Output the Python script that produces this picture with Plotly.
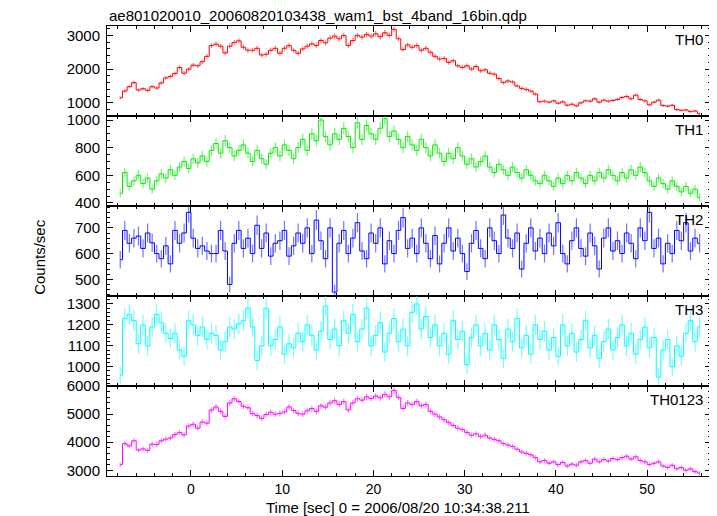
import numpy as np
import plotly.graph_objects as go
from plotly.subplots import make_subplots

# ---- data (0.5 s bins, rates in counts/sec) ----
t_start = -7.75
bin_width = 0.5

th0 = [1150,1350,1480,1600,1380,1420,1370,1480,1440,1590,
       1740,1780,1870,2050,1880,2000,2120,2100,2220,2380,
       2700,2740,2680,2480,2680,2790,2840,2650,2560,2560,
       2620,2420,2440,2560,2620,2470,2620,2700,2560,2470,
       2600,2680,2750,2700,2850,2780,2920,2980,2900,3000,
       2700,2850,3000,2950,3030,2980,3050,2960,3080,3000,
       3180,2900,2580,2720,2650,2700,2560,2620,2500,2380,
       2300,2320,2200,2250,2100,2050,2100,2000,2080,1950,
       1980,1880,1850,1720,1600,1650,1620,1500,1430,1400,
       1350,1260,1030,1050,1020,1060,990,1030,930,960,
       910,1000,1060,1050,1120,1020,1080,1050,1070,1100,
       1160,1190,1120,1230,1100,1060,940,1020,1080,920,
       900,930,800,780,790,740,760,680]

th1 = [470,620,520,560,600,540,580,500,560,610,
       580,640,600,660,700,650,720,690,740,700,
       780,830,760,850,800,740,780,820,760,700,
       780,720,680,760,800,740,820,780,720,800,
       860,780,900,850,1000,880,820,900,860,940,
       880,800,980,860,960,900,860,940,1010,880,
       920,860,800,880,820,780,860,800,740,820,
       760,700,760,720,800,740,680,720,660,700,
       740,660,620,680,640,600,660,620,580,640,
       600,560,540,600,560,520,580,540,600,560,
       620,580,540,600,560,620,580,640,600,560,
       620,580,640,600,660,620,560,520,580,540,
       500,560,520,480,520,470,500,440]

th2 = [576,690,640,660,668,620,680,642,600,580,
       630,560,690,640,680,760,660,620,630,610,
       600,600,690,610,480,640,690,620,660,600,
       710,620,680,590,640,650,690,590,630,680,
       640,700,600,730,650,580,700,450,640,690,
       600,660,720,610,580,680,640,700,560,650,
       600,690,740,620,660,600,700,640,580,670,
       560,640,700,610,660,600,530,640,690,620,
       580,700,650,600,750,660,620,680,540,640,
       700,610,660,600,680,630,720,600,560,650,
       700,620,590,680,630,540,660,700,610,650,
       600,680,640,580,700,650,760,620,660,560,
       640,600,690,650,720,610,660,640]

th3 = [960,1230,1250,1220,1110,1200,1100,1190,1250,1210,
       1160,1135,1160,1080,1050,1220,1200,1150,1190,1130,
       1160,1150,1080,1120,1190,1180,1205,1220,1280,1190,
       1030,1100,1280,1100,1130,1190,1060,1110,1090,1160,
       1120,1200,1150,1080,1170,1290,1130,1180,1100,1220,
       1160,1250,1120,1180,1280,1100,1150,1210,1070,1160,
       1230,1120,1180,1100,1260,1300,1180,1240,1140,1200,
       1100,1160,1060,1220,1130,1170,1010,1140,1200,1100,
       1160,1080,1200,1130,1040,1180,1120,1230,1090,1150,
       1060,1200,1130,1170,1080,1140,1050,1200,1100,1160,
       1070,1130,1220,1090,1150,1040,1120,1180,1080,1140,
       1200,1100,1160,1060,1130,1190,1090,1140,950,1080,
       1130,1000,1100,1050,1160,1220,1120,1190]

th0123 = [3200,3950,3870,4050,3720,3760,3710,3930,3920,4050,
          4110,4150,4280,4350,4260,4580,4640,4500,4720,4680,
          5150,5260,5100,4920,5400,5550,5450,5280,5230,5020,
          4950,4850,4990,5070,5000,5030,5080,5260,5130,5030,
          5000,5120,5200,5100,5300,5250,5400,5480,5350,5450,
          5150,5400,5550,5500,5620,5560,5650,5580,5700,5620,
          5850,5600,5200,5400,5350,5450,5300,5350,5100,5000,
          4900,4800,4700,4600,4500,4450,4350,4250,4300,4200,
          4250,4150,4100,4050,3950,3900,3850,3750,3650,3600,
          3550,3450,3300,3350,3250,3300,3200,3280,3150,3220,
          3180,3300,3350,3250,3400,3300,3380,3330,3420,3380,
          3450,3500,3400,3480,3350,3300,3200,3250,3300,3150,
          3100,3180,3050,3100,3000,3050,2950,2900]

band_names = ["TH0", "TH1", "TH2", "TH3", "TH0123"]
band_values = [th0, th1, th2, th3, th0123]
y_ranges = [[610, 3280], [378, 1029], [435, 785], [908, 1338], [2795, 6005]]
y_dticks = [1000, 200, 100, 100, 1000]
y_minor = [200, 50, 20, 20, 200]
colors = ["255,0,0", "0,235,0", "0,0,255", "0,255,255", "255,0,255"]

title_text = "ae801020010_20060820103438_wam1_bst_4band_16bin.qdp"
xlabel = "Time [sec] 0 = 2006/08/20 10:34:38.211"
ylabel = "Counts/sec"

FONT = "Liberation Sans, Arial, Helvetica, sans-serif"

fig = make_subplots(rows=5, cols=1, shared_xaxes=True, vertical_spacing=0)

n = len(th0)
t = t_start + bin_width * np.arange(n)

for i, (name, vals) in enumerate(zip(band_names, band_values)):
    v = np.array(vals, dtype=float)
    err = np.sqrt(v / bin_width)  # Poisson error of each 0.5 s bin
    fig.add_trace(go.Scatter(
        x=t, y=v, mode="lines", line_shape="hvh",
        line=dict(color=f"rgb({colors[i]})", width=1),
        error_y=dict(type="data", array=err, width=0, thickness=1.2,
                     color=f"rgba({colors[i]},0.55)"),
        showlegend=False, hoverinfo="skip"), row=i + 1, col=1)

domains = [[0.8, 1.0], [0.6, 0.8], [0.4, 0.6], [0.2, 0.4], [0.0, 0.2]]
for i in range(5):
    yax = "yaxis" if i == 0 else f"yaxis{i+1}"
    xax = "xaxis" if i == 0 else f"xaxis{i+1}"
    fig.layout[yax].update(
        domain=domains[i], range=y_ranges[i], dtick=y_dticks[i], tick0=0,
        ticks="inside", ticklen=6, tickwidth=1, tickcolor="black",
        minor=dict(dtick=y_minor[i], ticks="inside", ticklen=3, tickcolor="black"),
        showline=True, linecolor="black", linewidth=1, mirror="ticks",
        showgrid=False, zeroline=False,
        tickfont=dict(family=FONT, size=15, color="black"),
        ticklabelstandoff=3)
    fig.layout[xax].update(
        range=[-9.2, 57], dtick=10, tick0=0,
        ticks="inside", ticklen=6, tickwidth=1, tickcolor="black",
        minor=dict(dtick=2, ticks="inside", ticklen=3, tickcolor="black"),
        showline=True, linecolor="black", linewidth=1, mirror="ticks",
        showgrid=False, zeroline=False, showticklabels=(i == 4),
        ticklabelstandoff=0,
        tickfont=dict(family=FONT, size=14, color="black"))
    fig.add_annotation(text=band_names[i], xref=f"x{'' if i == 0 else i+1} domain",
                       yref=f"y{'' if i == 0 else i+1} domain",
                       x=1, y=1, xanchor="right", yanchor="top", xshift=-6, yshift=-3,
                       showarrow=False, font=dict(family=FONT, size=15, color="black"))

fig.add_annotation(text=title_text, xref="paper", yref="paper", x=0, y=1,
                   xanchor="left", yanchor="bottom", yshift=0, showarrow=False,
                   font=dict(family=FONT, size=15, color="black"))
fig.add_annotation(text=xlabel, xref="paper", yref="paper", x=0.482, y=0,
                   xanchor="center", yanchor="top", yshift=-21, showarrow=False,
                   font=dict(family=FONT, size=15, color="black"))
fig.add_annotation(text=ylabel, xref="paper", yref="paper", x=0, y=0.487,
                   xanchor="center", yanchor="middle", xshift=-67, textangle=-90,
                   showarrow=False, font=dict(family=FONT, size=15, color="black"))

# page body has an 8px margin: shrink the figure so the plot lands where the reference's does
fig.update_layout(width=709, height=508, margin=dict(l=99, r=6, t=18, b=40),
                  plot_bgcolor="white", paper_bgcolor="white")

fig.write_html("out.html")
